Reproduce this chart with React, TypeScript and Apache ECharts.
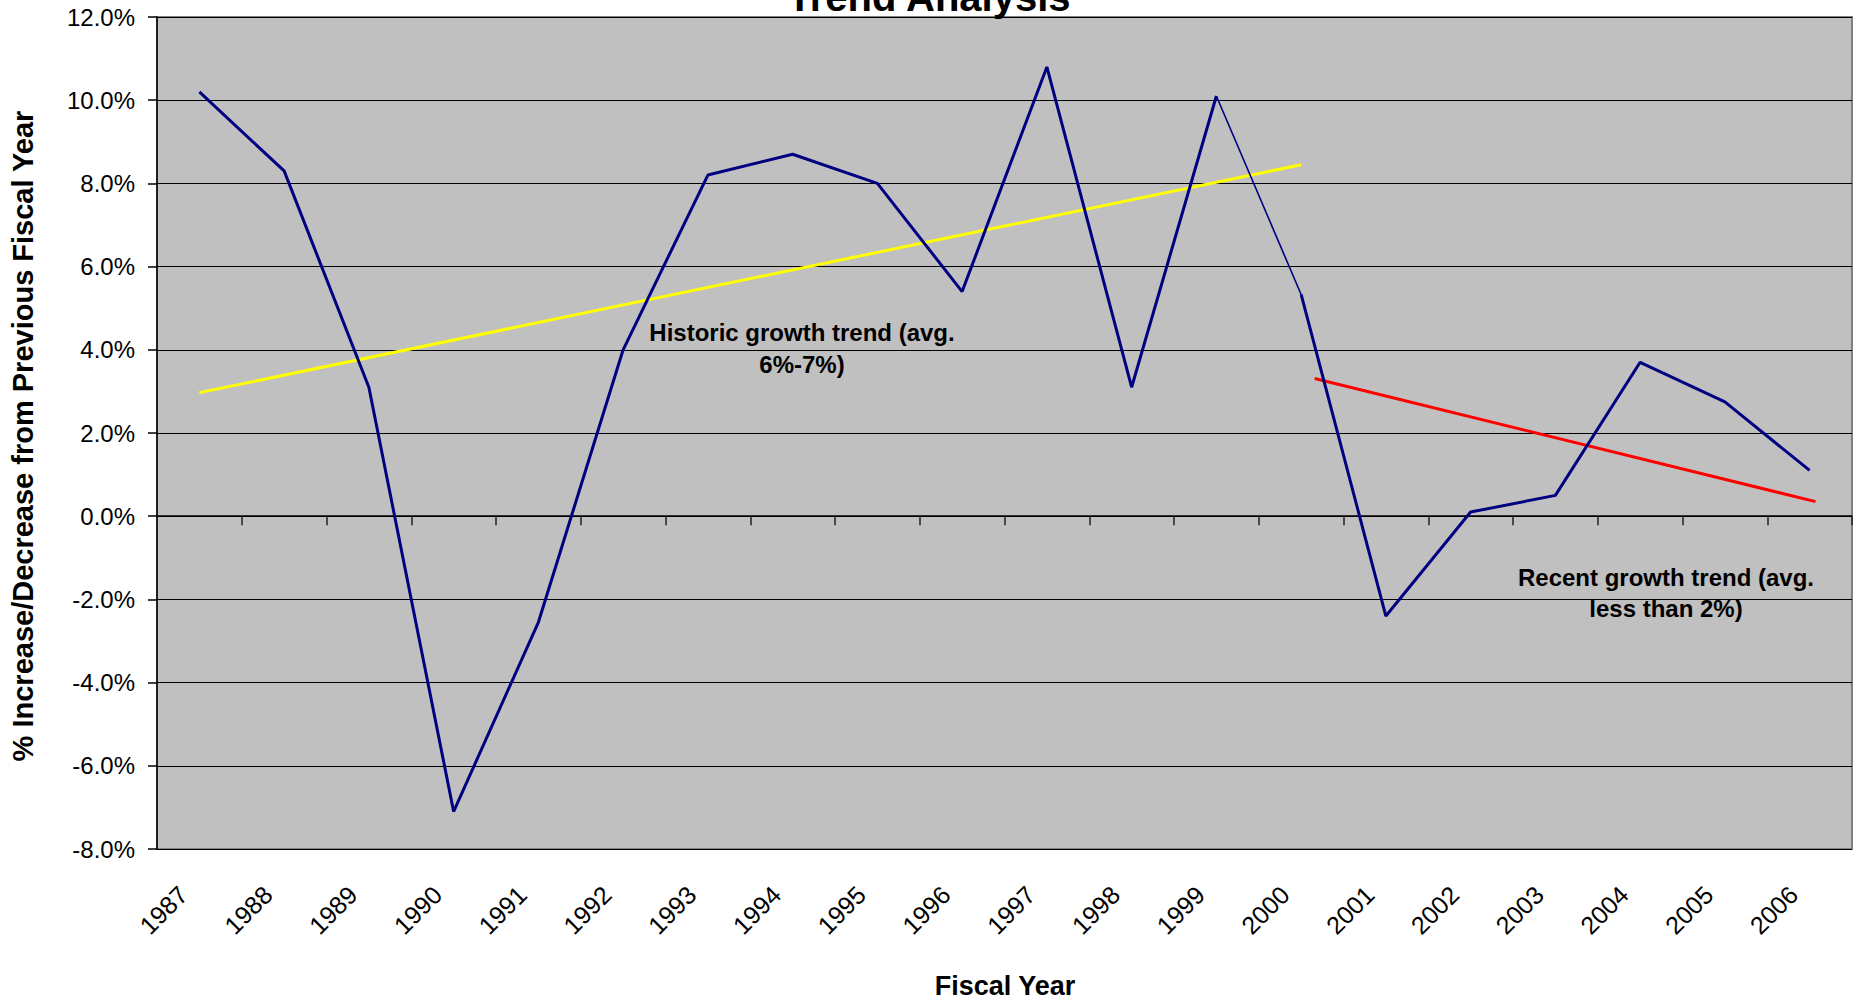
import React, { useEffect, useRef } from "react";
import * as echarts from "echarts";

const years = ["1987","1988","1989","1990","1991","1992","1993","1994","1995","1996","1997","1998","1999","2000","2001","2002","2003","2004","2005","2006"];
const historicValues = [10.2, 8.3, 3.1, -7.1, -2.55, 4.0, 8.2, 8.7, 8.0, 5.4, 10.8, 3.1, 10.1, null, null, null, null, null, null, null];
const bridgeValues = [null, null, null, null, null, null, null, null, null, null, null, null, 10.1, 5.33, null, null, null, null, null, null];
const recentValues = [null, null, null, null, null, null, null, null, null, null, null, null, null, 5.33, -2.4, 0.1, 0.5, 3.7, 2.75, 1.1];
const historicTrendX = [0, 13.0];
const historicTrendY = [2.97, 8.45];
const recentTrendX = [13.16, 19.07];
const recentTrendY = [3.31, 0.35];
const yTicks = { min: -8, max: 12, interval: 2 };

const FONT = "'Liberation Sans', Arial, Helvetica, sans-serif";

export default function App() {
  const ref = useRef<HTMLDivElement>(null);
  useEffect(() => {
    if (!ref.current) return;
    const chart = echarts.init(ref.current, undefined, { renderer: "svg" });
    const option: any = {
      animation: false,
      backgroundColor: "#ffffff",
      textStyle: { fontFamily: FONT },
      grid: {
        left: 157,
        right: 4,
        top: 17,
        bottom: 152,
        show: true,
        backgroundColor: "#C0C0C0",
        borderColor: "#808080",
        borderWidth: 2,
      },
      xAxis: [
        {
          type: "category",
          data: years,
          boundaryGap: true,
          position: "bottom",
          axisLine: { show: false, onZero: false },
          axisTick: { show: false },
          splitLine: { show: false },
          axisLabel: {
            interval: 0,
            rotate: 45,
            margin: 25,
            padding: [0, 23, 0, 0],
            fontSize: 25,
            color: "#000",
            fontFamily: FONT,
          },
        },
        {
          type: "category",
          data: years,
          boundaryGap: true,
          position: "bottom",
          axisLine: { show: true, onZero: true, lineStyle: { color: "#000", width: 1.5 } },
          axisTick: { show: true, interval: 0, length: 9, lineStyle: { color: "#222", width: 1.5 } },
          axisLabel: { show: false },
          splitLine: { show: false },
        },
        {
          type: "value",
          min: -0.5,
          max: 19.5,
          show: false,
          axisLine: { show: false, onZero: false },
          splitLine: { show: false },
        },
      ],
      yAxis: {
        type: "value",
        min: yTicks.min,
        max: yTicks.max,
        interval: yTicks.interval,
        axisLine: { show: true, onZero: false, lineStyle: { color: "#000", width: 1.5 } },
        axisTick: { show: true, length: 9, lineStyle: { color: "#000", width: 1.5 } },
        splitLine: { show: true, lineStyle: { color: "#000", width: 1 } },
        axisLabel: {
          margin: 22,
          fontSize: 24,
          color: "#000",
          fontFamily: FONT,
          formatter: (v: number) => v.toFixed(1) + "%",
        },
      },
      series: [
        {
          type: "line",
          xAxisIndex: 2,
          data: historicTrendX.map((x, i) => [x, historicTrendY[i]]),
          symbol: "none",
          lineStyle: { color: "#FFFF00", width: 3 },
          z: 3,
        },
        {
          type: "line",
          xAxisIndex: 2,
          data: recentTrendX.map((x, i) => [x, recentTrendY[i]]),
          symbol: "none",
          lineStyle: { color: "#FF0000", width: 3 },
          z: 3,
        },
        {
          type: "line",
          xAxisIndex: 1,
          data: historicValues,
          symbol: "none",
          connectNulls: false,
          lineStyle: { color: "#000080", width: 3 },
          z: 4,
        },
        {
          type: "line",
          xAxisIndex: 1,
          data: bridgeValues,
          symbol: "none",
          connectNulls: false,
          lineStyle: { color: "#000080", width: 1.6 },
          z: 4,
        },
        {
          type: "line",
          xAxisIndex: 1,
          data: recentValues,
          symbol: "none",
          connectNulls: false,
          lineStyle: { color: "#000080", width: 3 },
          z: 4,
        },
      ],
      graphic: [
        {
          type: "text",
          x: 929,
          y: -3,
          z: 10,
          style: {
            text: "Trend Analysis",
            font: `bold 40px ${FONT}`,
            fill: "#000",
            textAlign: "center",
            textVerticalAlign: "middle",
          },
        },
        {
          type: "text",
          x: 23,
          y: 436,
          rotation: Math.PI / 2,
          z: 10,
          style: {
            text: "% Increase/Decrease from Previous Fiscal Year",
            font: `bold 29px ${FONT}`,
            fill: "#000",
            textAlign: "center",
            textVerticalAlign: "middle",
          },
        },
        {
          type: "text",
          x: 1005,
          y: 986,
          z: 10,
          style: {
            text: "Fiscal Year",
            font: `bold 27px ${FONT}`,
            fill: "#000",
            textAlign: "center",
            textVerticalAlign: "middle",
          },
        },
        {
          type: "text",
          x: 802,
          y: 348,
          z: 10,
          style: {
            text: "Historic growth trend (avg.\n6%-7%)",
            font: `bold 24px ${FONT}`,
            lineHeight: 32,
            fill: "#000",
            textAlign: "center",
            textVerticalAlign: "middle",
          },
        },
        {
          type: "text",
          x: 1666,
          y: 593,
          z: 10,
          style: {
            text: "Recent growth trend (avg.\nless than 2%)",
            font: `bold 24px ${FONT}`,
            lineHeight: 31,
            fill: "#000",
            textAlign: "center",
            textVerticalAlign: "middle",
          },
        },
      ],
    };
    chart.setOption(option);
    return () => chart.dispose();
  }, []);
  return (
    <div
      ref={ref}
      style={{ position: "absolute", left: 0, top: 0, width: 1856, height: 1001 }}
    />
  );
}
